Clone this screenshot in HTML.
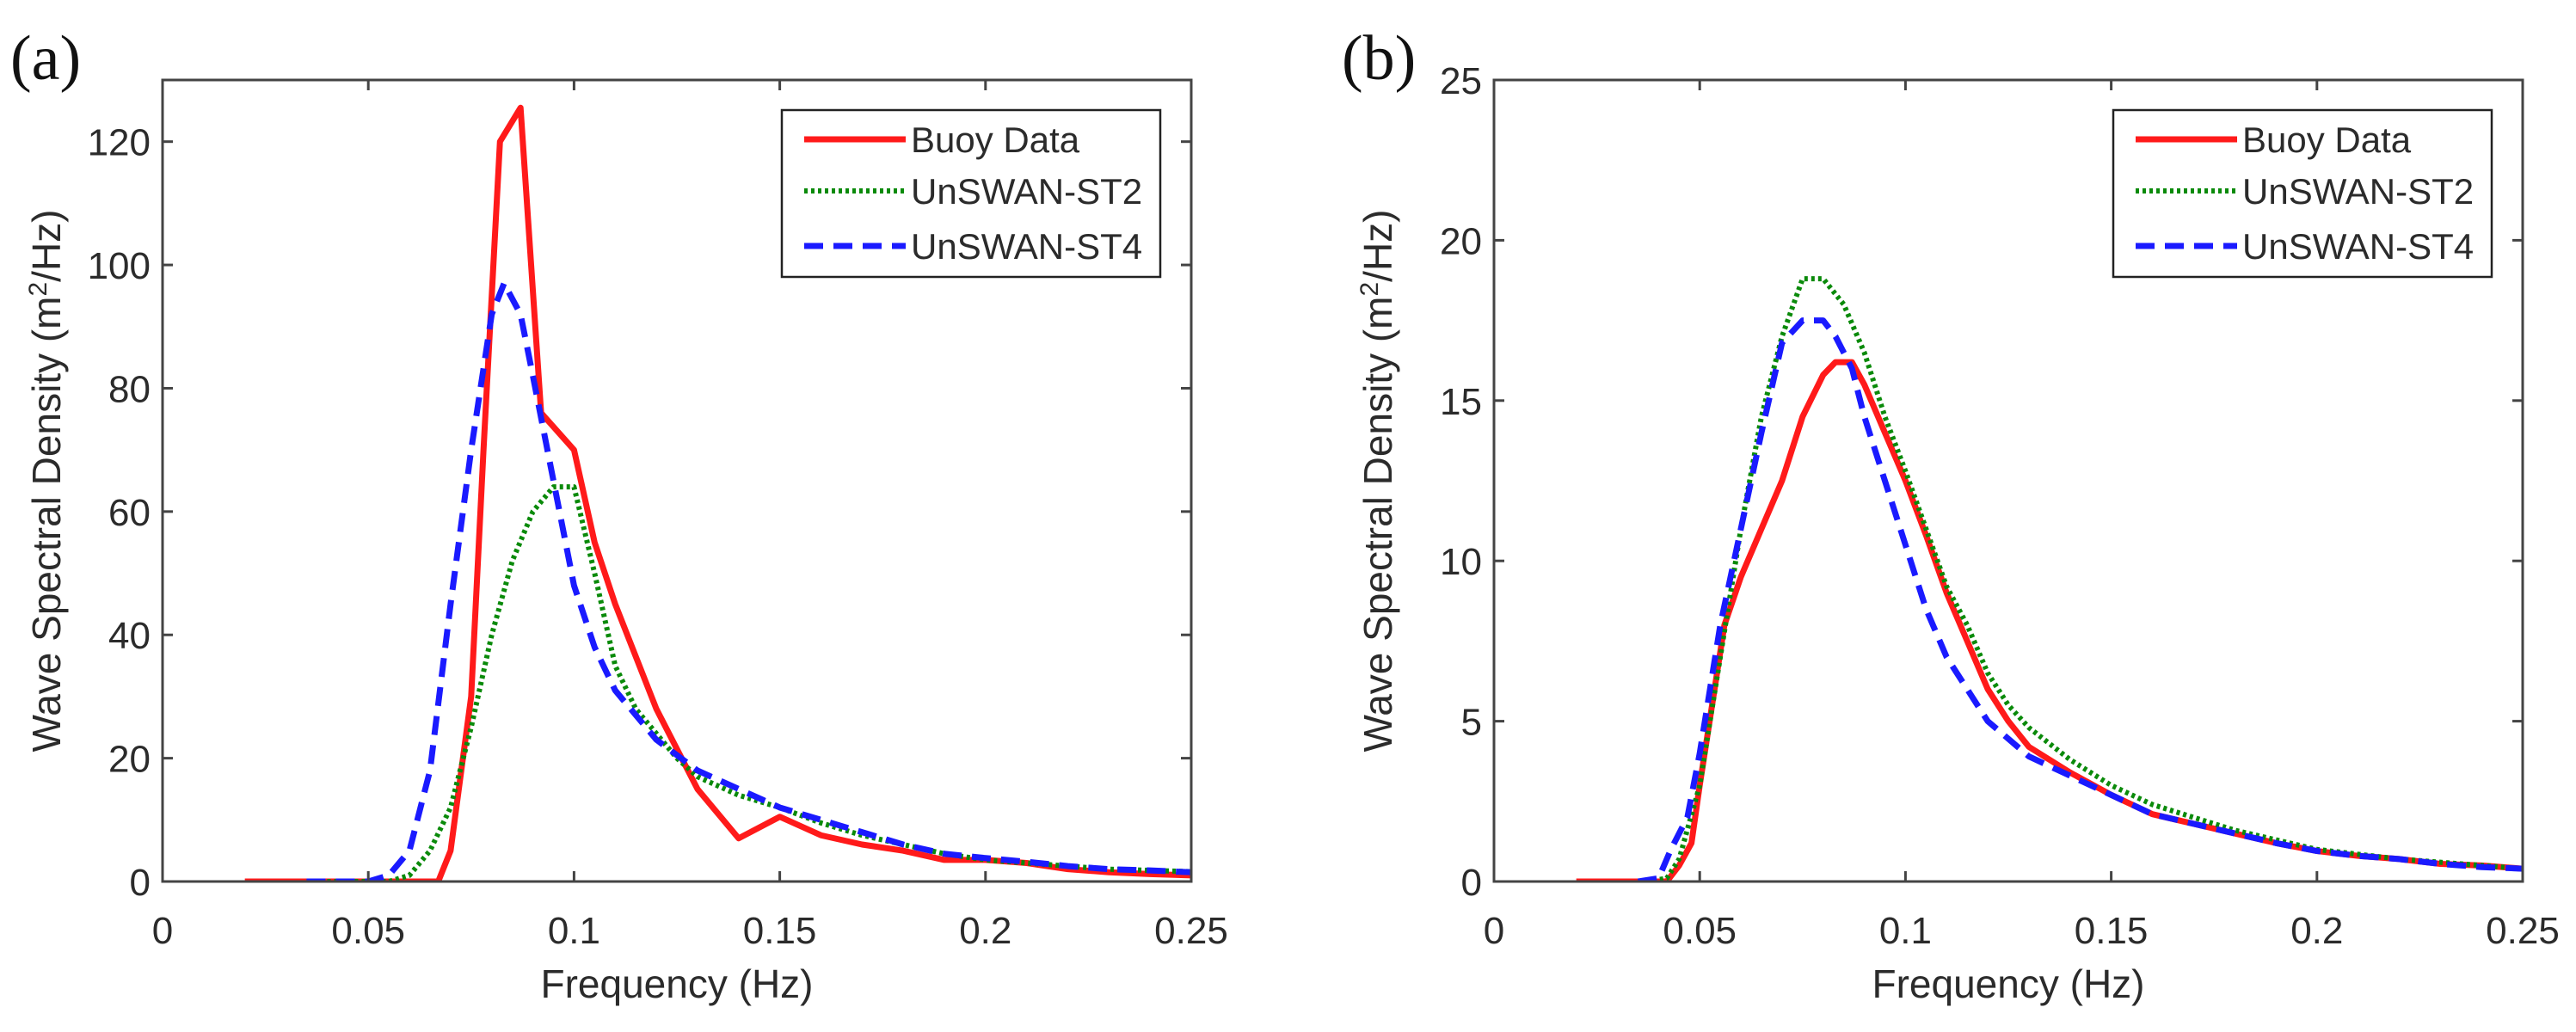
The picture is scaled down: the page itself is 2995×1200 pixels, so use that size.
<!DOCTYPE html>
<html><head><meta charset="utf-8"><style>
html,body{margin:0;padding:0;background:#fff;}
svg text{font-family:"Liberation Sans",Arial,sans-serif;fill:#2b2b2b;}
</style></head><body>
<svg id="fig" width="2995" height="1195" viewBox="0 0 2995 1195" xmlns="http://www.w3.org/2000/svg"></svg>
<script>
// Panel (a) data
const aRedX=[0.02,0.067,0.07,0.075,0.078,0.082,0.087,0.092,0.1,0.105,0.11,0.12,0.13,0.14,0.15,0.16,0.17,0.18,0.19,0.2,0.21,0.22,0.23,0.24,0.25];
const aRedY=[0,0,5,30,70,120,125.5,76,70,55,45,28,15,7,10.5,7.5,6,5,3.5,3.5,3,2,1.5,1.2,1];
const aGreenX=[0.035,0.055,0.06,0.065,0.07,0.075,0.08,0.085,0.09,0.095,0.1,0.105,0.11,0.115,0.12,0.125,0.13,0.14,0.15,0.16,0.17,0.18,0.19,0.2,0.21,0.22,0.23,0.24,0.25];
const aGreenY=[0,0,1,5,12,25,40,52,60,64,64,50,35,28,24,20,17,14,12,9.5,7.5,6,4.5,3.5,3,2.5,2,1.8,1.6];
const aBlueX=[0.035,0.05,0.055,0.06,0.065,0.07,0.075,0.08,0.083,0.087,0.09,0.095,0.1,0.105,0.11,0.115,0.12,0.13,0.14,0.15,0.16,0.17,0.18,0.19,0.2,0.21,0.22,0.23,0.24,0.25];
const aBlueY=[0,0,1,5,18,45,70,92,97,92,82,65,48,38,31,27,23,18,15,12,10,8,6,4.5,3.8,3.2,2.5,2,1.8,1.5];
// Panel (b) data
const bRedX=[0.02,0.042,0.045,0.048,0.05,0.053,0.056,0.06,0.065,0.07,0.075,0.08,0.083,0.087,0.09,0.095,0.1,0.105,0.11,0.115,0.12,0.125,0.13,0.14,0.15,0.16,0.17,0.18,0.19,0.2,0.21,0.22,0.23,0.24,0.25];
const bRedY=[0,0,0.5,1.2,3,5.5,8,9.5,11,12.5,14.5,15.8,16.2,16.2,15.5,14,12.5,10.8,9,7.5,6,5,4.2,3.4,2.7,2.1,1.8,1.5,1.2,0.95,0.8,0.7,0.55,0.5,0.4];
const bGreenX=[0.037,0.042,0.045,0.05,0.055,0.06,0.065,0.07,0.075,0.08,0.085,0.09,0.095,0.1,0.105,0.11,0.115,0.12,0.125,0.13,0.14,0.15,0.16,0.17,0.18,0.19,0.2,0.21,0.22,0.23,0.24,0.25];
const bGreenY=[0,0.1,0.7,3,7,11,14.5,17,18.8,18.8,18,16.5,14.5,12.8,11,9.2,8,6.5,5.5,4.8,3.8,3,2.4,2,1.6,1.3,1.0,0.85,0.7,0.6,0.5,0.4];
const bBlueX=[0.035,0.04,0.043,0.047,0.05,0.055,0.06,0.065,0.07,0.075,0.08,0.083,0.087,0.09,0.095,0.1,0.105,0.11,0.115,0.12,0.13,0.14,0.15,0.16,0.17,0.18,0.19,0.2,0.21,0.22,0.23,0.24,0.25];
const bBlueY=[0,0.1,1,2,4,8,11,14,16.8,17.5,17.5,17,16,14.5,12.5,10.5,8.5,7,6,5,3.9,3.3,2.7,2.1,1.8,1.5,1.2,0.95,0.8,0.7,0.55,0.45,0.4];
const xTicks=[0,0.05,0.1,0.15,0.2,0.25];
const xTickLabels=["0","0.05","0.1","0.15","0.2","0.25"];
const aYTicks=[0,20,40,60,80,100,120];
const bYTicks=[0,5,10,15,20,25];
const legendLabels=["Buoy Data","UnSWAN-ST2","UnSWAN-ST4"];

const NS="http://www.w3.org/2000/svg";
const svg=document.getElementById('fig');
function mk(tag,attrs,parent){const e=document.createElementNS(NS,tag);for(const k in attrs)e.setAttribute(k,attrs[k]);(parent||svg).appendChild(e);return e;}
const styles=[{stroke:'#ff1a1a',w:7,dash:''},{stroke:'#0a8a0a',w:6,dash:'4 4'},{stroke:'#1a1aff',w:7,dash:'22 12'}];

function panel(id,L,T,W,H,ymax,yTicks,series,letter,letterX,ytitleX){
  const g=mk('g',{});
  
  
  const xs=v=>L+v/0.25*W, ys=v=>T+H-v/ymax*H;
  const clip=mk('clipPath',{id:'clip'+id},g);mk('rect',{x:L,y:T,width:W,height:H},clip);
  const names=['buoy-data-line','unswan-st2-line','unswan-st4-line'];
  series.forEach((s,i)=>{
    const p=mk('polyline',{points:s[0].map((x,j)=>xs(x)+','+ys(s[1][j])).join(' '),fill:'none',stroke:styles[i].stroke,'stroke-width':styles[i].w,'stroke-dasharray':styles[i].dash,'stroke-linejoin':'round','clip-path':'url(#clip'+id+')'},g);
    
    
  });
  const box=mk('rect',{x:L,y:T,width:W,height:H,fill:'none',stroke:'#444','stroke-width':3},g);
  
  
  xTicks.forEach((t,i)=>{
    const x=xs(t);
    mk('line',{x1:x,y1:T+H,x2:x,y2:T+H-12,stroke:'#444','stroke-width':3},g);
    mk('line',{x1:x,y1:T,x2:x,y2:T+12,stroke:'#444','stroke-width':3},g);
    const tx=mk('text',{x:x,y:T+H+72,'font-size':44,'text-anchor':'middle'},g);
    tx.textContent=xTickLabels[i];
    
    
  });
  yTicks.forEach(t=>{
    const y=ys(t);
    mk('line',{x1:L,y1:y,x2:L+12,y2:y,stroke:'#444','stroke-width':3},g);
    mk('line',{x1:L+W,y1:y,x2:L+W-12,y2:y,stroke:'#444','stroke-width':3},g);
    const tx=mk('text',{x:L-14,y:y+16,'font-size':44,'text-anchor':'end'},g);
    tx.textContent=String(t);
    
    
  });
  const xt=mk('text',{x:L+W/2,y:T+H+135,'font-size':46,'text-anchor':'middle'},g);
  xt.textContent='Frequency (Hz)';
  
  
  const yt=mk('text',{x:0,y:0,'font-size':46,'text-anchor':'middle',transform:'translate('+(ytitleX)+','+(T+H/2)+') rotate(-90)'},g);
  yt.innerHTML='Wave Spectral Density (m<tspan baseline-shift="super" font-size="30">2</tspan>/Hz)';
  
  
  const lt=mk('text',{x:letterX,y:92,'font-size':74,style:'font-family:"Liberation Serif",serif;fill:#111'},g);
  lt.textContent='('+letter+')';
  
  
  // legend
  const lx=L+W-476, ly=128;
  const lg=mk('g',{},g);
  
  
  mk('rect',{x:lx,y:ly,width:440,height:194,fill:'#fff',stroke:'#222','stroke-width':2.5},lg);
  [162,222,286].forEach((ry,i)=>{
    mk('line',{x1:lx+26,y1:ry,x2:lx+144,y2:ry,stroke:styles[i].stroke,'stroke-width':styles[i].w,'stroke-dasharray':styles[i].dash},lg);
    const tx=mk('text',{x:lx+150,y:ry+15,'font-size':42},lg);
    tx.textContent=legendLabels[i];
    
    
  });
}
panel('a',189,93,1196,932,130,aYTicks,[[aRedX,aRedY],[aGreenX,aGreenY],[aBlueX,aBlueY]],'a',12,70);
panel('b',1737,93,1196,932,25,bYTicks,[[bRedX,bRedY],[bGreenX,bGreenY],[bBlueX,bBlueY]],'b',1560,1618);
</script>
</body></html>
